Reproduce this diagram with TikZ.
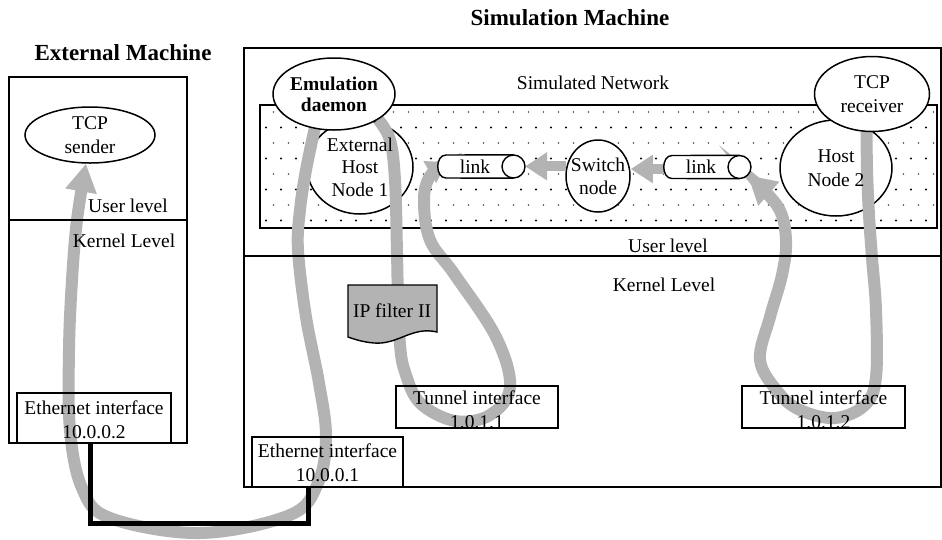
\documentclass[tikz,border=0pt]{standalone}
\usepackage{fontspec}
\setmainfont{Liberation Serif}
\usetikzlibrary{arrows.meta,shapes.geometric}
\definecolor{flow}{HTML}{B3B3B3}
\pgfdeclarelayer{under}
\pgfdeclarelayer{over}
\pgfsetlayers{under,main,over}
\begin{document}
\begin{tikzpicture}[x=1pt,y=-1pt,
  every node/.style={font=\fontsize{19.5}{24}\selectfont},
  title/.style={font=\bfseries\fontsize{23}{26}\selectfont},
  frame/.style={draw=black, line width=1.6pt},
  ifbox/.style={draw=black, line width=1.6pt, inner sep=0pt},
  txt/.style={align=center, inner sep=0pt},
  oval/.style={ellipse, draw=black, line width=1.5pt, fill=white, inner sep=0pt},
  linkbody/.style={draw=black, line width=1.4pt, fill=white},
  band/.style={draw=flow, line width=12pt},
  bigtip/.style={-{Triangle[width=30pt,length=28pt]}},
  midtip/.style={-{Triangle[width=24pt,length=20pt]}},
  shortarrow/.style={draw=flow, line width=10pt, -{Triangle[width=27pt,length=22pt]}},
  cable/.style={draw=black, line width=5pt, line join=miter}
]
\useasboundingbox (0,0) rectangle (942,539);

% ---------- simulated network area (dotted) ----------
\begin{pgfonlayer}{under}
  \draw[frame] (260,105) rectangle (937,228);
  \foreach \r in {0,...,3} {
    \foreach \c in {0,...,44} {
      \fill[black!70] (273.5+15*\c, 112+31*\r) circle[radius=0.9pt];
      \fill[black] (266+15*\c, 127.5+31*\r) circle[radius=1.2pt];
    }
  }
  \node[oval, minimum width=106pt, minimum height=94pt] (exthost) at (360,167) {};
  \node[oval, minimum width=112pt, minimum height=96pt] (host2) at (836,168) {};
  \node[oval, minimum width=64pt, minimum height=72pt] (sw) at (598,176) {};
\end{pgfonlayer}

% ---------- ovals drawn above the flows ----------
\begin{pgfonlayer}{over}
  \node[oval, minimum width=130pt, minimum height=56pt] (sender) at (90,135) {};
  \node[oval, minimum width=122pt, minimum height=72pt] (emu) at (334,94) {};
  \node[oval, minimum width=115pt, minimum height=75pt] (rec) at (872,94) {};
\end{pgfonlayer}

% ---------- link elements ----------
\begin{pgfonlayer}{over}
  \node[circle, inner sep=0pt, minimum size=23pt] (l1c) at (513.5,166.5) {};
  \node[circle, inner sep=0pt, minimum size=23pt] (l2c) at (739.5,167) {};
  \draw[linkbody] (l1c.north) -- (446,155) .. controls (435,155) and (435,178) .. (446,178) -- (l1c.south);
  \draw[linkbody] (l2c.north) -- (672,155.5) .. controls (661,155.5) and (661,178.5) .. (672,178.5) -- (l2c.south);
  \draw[linkbody] (l1c) circle[radius=11.5pt];
  \draw[linkbody] (l2c) circle[radius=11.5pt];
  \node[txt] (l1) at (475,167) {link};
  \node[txt] (l2) at (701,167) {link};
\end{pgfonlayer}
\coordinate (l1w) at (447,162);
\coordinate (l2w) at (670,169);

% ---------- interface boxes ----------
\begin{pgfonlayer}{over}
  \node[ifbox, minimum width=154pt, minimum height=50pt] (eth2) at (94,418) {};
  \node[ifbox, minimum width=151pt, minimum height=50pt] (eth1) at (327.5,462) {};
  \node[ifbox, minimum width=162pt, minimum height=42pt] (tun1) at (477,407) {};
  \node[ifbox, minimum width=163pt, minimum height=42pt] (tun2) at (823.5,407) {};
  \node[txt] (eth2t) at (94,420) {Ethernet interface\\10.0.0.2};
  \node[txt] (eth1t) at (327.5,463) {Ethernet interface\\10.0.0.1};
  \node[txt] (tun1t) at (477,410) {Tunnel interface\\1.0.1.1};
  \node[txt] (tun2t) at (823.5,410) {Tunnel interface\\1.0.1.2};
\end{pgfonlayer}

% ---------- packet flows ----------
\draw[band, bigtip] plot[smooth, tension=0.6] coordinates {
  (emu.241) (306,170) (300,210) (298,250) (306,317) (319,383) (326,437)
  (318,483) (290,515) (200,533) (110,518) (82,488) (70,430) (69,350)
  (72,280) (77,220) (sender.262)};
\draw[band, midtip] plot[smooth, tension=0.6] coordinates {
  (emu.330) (390,140) (395,180) (397,253) (398,300) (400,345) (405,372)
  (420,403) (455,421) (490,415) (510,387) (496,337) (455,275) (430,240)
  (424,200) (430,176) (l1w)};
\draw[band, bigtip] plot[smooth, tension=0.6] coordinates {
  (rec.262) (867,170) (869,215) (872,258) (876,310) (876,377) (865,405)
  (835,418) (800,410) (778,392) (760,360) (770,317) (782,275) (786,240)
  (778,207) (l2c.-45)};
\draw[shortarrow] (sw.163) -- (sw.163 -| l1c.east);
\draw[shortarrow] (l2w) -- (l2w -| sw.east);

% ---------- machines and levels ----------
\begin{pgfonlayer}{over}
  \draw[frame] (9,77) rectangle (187,443);
  \draw[frame] (9,220) -- (187,220);
  \draw[frame] (244,48) rectangle (941,487);
  \draw[frame] (244,256) -- (941,256);

  \node[title] (extTitle) at (123,53) {External Machine};
  \node[title] (simTitle) at (570,18) {Simulation Machine};
  \node (simnet) at (593,83) {Simulated Network};
  \node (extuser) at (128,206) {User level};
  \node (extkern) at (124,241) {Kernel Level};
  \node (simuser) at (668,246) {User level};
  \node (simkern) at (664,285) {Kernel Level};

  % text of the ovals
  \node[txt] (sendert) at (sender) {TCP\\sender};
  \node[txt, font=\bfseries\fontsize{19.5}{21}\selectfont] (emut) at (emu) {Emulation\\daemon};
  \node[txt] (rect) at (rec) {TCP\\receiver};
  \node[txt, font=\fontsize{19.5}{22.5}\selectfont] (exthostt) at (exthost) {External\\Host\\Node 1};
  \node[txt] (host2t) at (host2) {Host\\Node 2};
  \node[txt, font=\fontsize{19.5}{23}\selectfont] (swt) at (sw) {Switch\\node};

  % IP filter document shape
  \filldraw[fill=flow, draw=black, line width=1.4pt]
    (348,285) -- (437,285) -- (437,332)
    .. controls (412,326) and (398,345) .. (374,343)
    .. controls (362,342) and (354,339) .. (348,337) -- cycle;
  \node[txt] (ipf) at (392,311) {IP filter II};

  % cable between the two Ethernet interfaces
  \draw[cable] ([xshift=-4pt]eth2.south) -- ++(0,80) -| ([xshift=-19.5pt]eth1.south);
\end{pgfonlayer}
\end{tikzpicture}
\end{document}
